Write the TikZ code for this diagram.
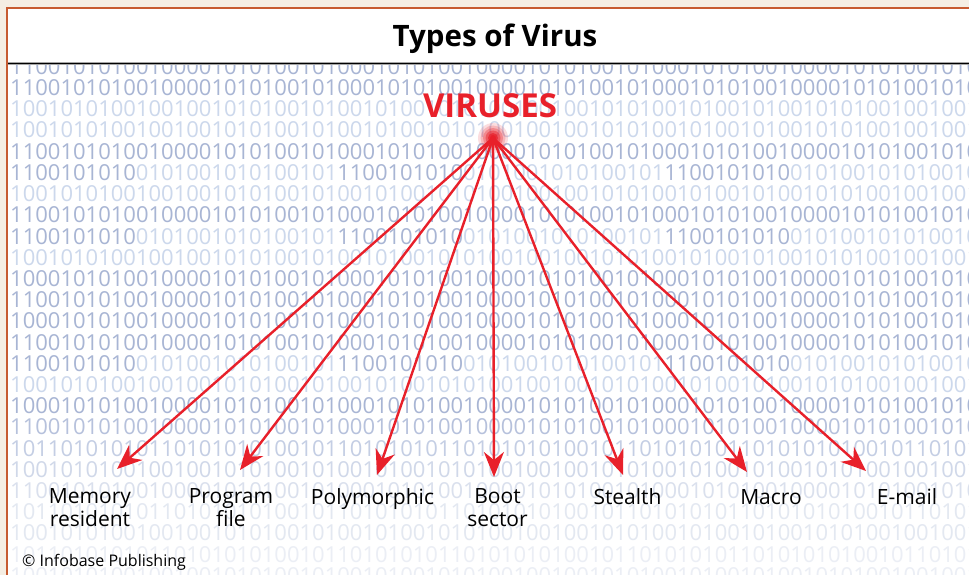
\documentclass[tikz,border=0pt]{standalone}
\usepackage{fontspec}
\setmainfont{Open Sans}
\usetikzlibrary{arrows.meta}
\definecolor{bgbeige}{HTML}{F5EEE3}
\definecolor{frameor}{HTML}{C75B30}
\definecolor{vred}{HTML}{E8202A}
\definecolor{bm}{HTML}{A8B5D4}
\definecolor{bl}{HTML}{CCD8EC}
\definecolor{fa}{HTML}{B6C1DC}
\definecolor{fb}{HTML}{C4CEE4}
\definecolor{fc}{HTML}{D0D8E9}
\definecolor{fd}{HTML}{DAE0ED}
\definecolor{fe}{HTML}{E3E8F1}
\definecolor{ff}{HTML}{EBEEF5}
\newcommand\rowA{1100101010010000101010010100010101001000010101001010001010100100001010100101000101}
\newcommand\rowB{1001010100100100101010010100101001010100100100101010010100101001010100100100101010}
\newcommand\rowC{1000101010010000101010010100010101001000010101001010001010100100001010100101000101}
\newcommand\rowD{1011010101011010101010010110101010110101010100101101010101101010101001011010101010}
\newcommand\mixpart{\textcolor{bm}{1100101010}\textcolor{bl}{0101001010100101}}
\newcommand\rowM{\mixpart\mixpart\mixpart\mixpart}
\newcommand\brow[3]{\node[binrow, text=#2] at (10,#1+7.9) {#3};}
\begin{document}
\begin{tikzpicture}[x=1pt,y=-1pt,
  binrow/.style={anchor=base west, inner sep=0pt, font=\fontsize{22}{22}\selectfont},
  lbl/.style={align=center, anchor=base, inner sep=0pt, text=black, font=\fontsize{21}{23}\selectfont},
  varrow/.style={draw=vred, line width=2.4pt, -{Stealth[length=25pt,width=20pt,inset=8pt]}},
  glow/.style={fill=vred}
]
\useasboundingbox (0,0) rectangle (969,575);
\fill[bgbeige] (0,0) rectangle (969,575);
\fill[white] (7,8) rectangle (969,575);
% binary background
\begin{scope}
\clip (8,65) rectangle (969,575);
\brow{66.5}{bm}{\rowA}
\brow{87.7}{bm}{\rowA}
\brow{108.9}{bl}{\rowB}
\brow{130.1}{bl}{\rowB}
\brow{151.3}{bm}{\rowA}
\brow{172.5}{bm}{\rowM}
\brow{193.7}{bl}{\rowB}
\brow{214.9}{bm}{\rowA}
\brow{236.1}{bm}{\rowM}
\brow{257.3}{bl}{\rowB}
\brow{278.5}{bm}{\rowC}
\brow{299.7}{bm}{\rowA}
\brow{320.9}{bm}{\rowC}
\brow{342.1}{bm}{\rowA}
\brow{363.3}{bm}{\rowM}
\brow{384.5}{bl}{\rowB}
\brow{405.7}{bm}{\rowC}
\brow{426.9}{fa}{\rowA}
\brow{448.1}{fb}{\rowD}
\brow{469.3}{fc}{\rowB}
\brow{490.5}{fd}{\rowA}
\brow{511.7}{fe}{\rowD}
\brow{532.9}{fe}{\rowB}
\brow{554.1}{ff}{\rowD}
\brow{575.3}{ff}{\rowB}
\end{scope}
% frame and title rule
\draw[frameor, line width=2.4pt] (7.2,575) -- (7.2,8) -- (969,8);
\draw[black!35, line width=3.6pt] (8.4,63.5) -- (969,63.5);
\draw[black, line width=1.7pt] (8.4,63.5) -- (969,63.5);
\node[anchor=base, inner sep=0pt, font=\fontsize{29.5}{29.5}\selectfont\bfseries] (title) at (495,46.5) {Types of Virus};
% source
\node[anchor=base, inner sep=0pt, text=vred, font=\fontsize{33}{33}\selectfont\bfseries] (viruses) at (490,117.5) {VIRUSES};
\coordinate (src) at (493,138);
\foreach \r/\o in {15/0.15,12.5/0.2,10/0.3,7.5/0.45,5/0.7,3/0.9}{
  \fill[glow, opacity=\o] (src) circle (\r);
}
% targets
\coordinate (tmem) at (117,469);
\coordinate (tprog) at (240,470);
\coordinate (tpoly) at (377,475);
\coordinate (tboot) at (494,477);
\coordinate (tstealth) at (623,475);
\coordinate (tmacro) at (747,472);
\coordinate (temail) at (866,471);
\foreach \t in {tmem,tprog,tpoly,tboot,tstealth,tmacro,temail}{
  \draw[varrow] (src) -- (\t);
}
% labels (base = last line)
\node[lbl] (memory) at (90,526) {Memory\\resident};
\node[lbl] (program) at (231,526) {Program\\file};
\node[lbl] (poly) at (372.5,504) {Polymorphic};
\node[lbl] (boot) at (497.5,526) {Boot\\sector};
\node[lbl] (stealth) at (627.5,504) {Stealth};
\node[lbl] (macro) at (771,504) {Macro};
\node[lbl] (email) at (907,504) {E-mail};
\node[anchor=base west, inner sep=0pt, font=\fontsize{16}{16}\selectfont] (credit) at (22,566) {© Infobase Publishing};
\end{tikzpicture}
\end{document}
